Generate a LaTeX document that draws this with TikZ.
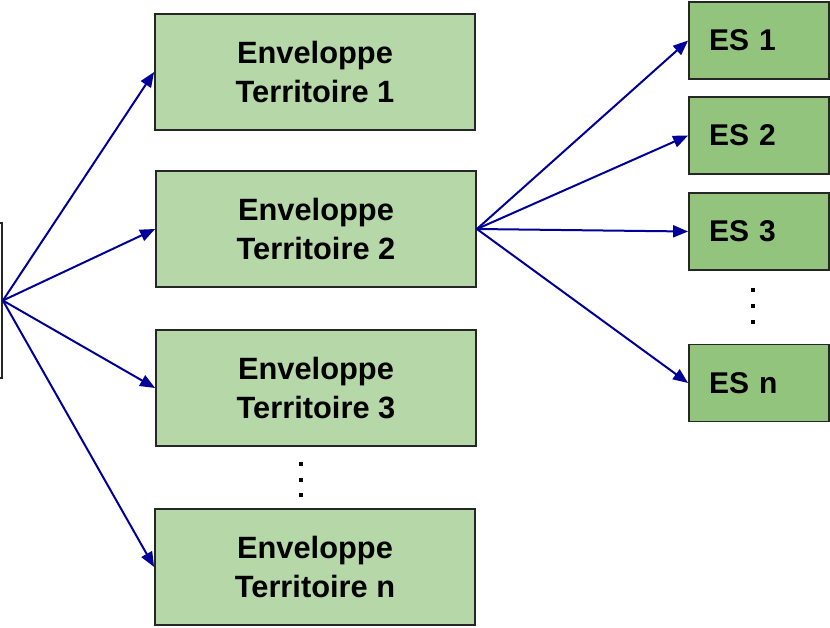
\documentclass[tikz,border=0pt]{standalone}
\usepackage{fontspec}
\setmainfont{Liberation Sans}
\usetikzlibrary{arrows.meta}
\definecolor{terrfill}{HTML}{B6D7A8}
\definecolor{esfill}{HTML}{93C47D}
\definecolor{arrowblue}{HTML}{000099}
\begin{document}
\begin{tikzpicture}[x=1pt,y=-1pt,
  terrbox/.style={draw=black!85, line width=1.8pt, fill=terrfill, minimum width=320pt, minimum height=116pt, inner sep=0pt, align=center,
    font={\fontsize{30.8pt}{39pt}\selectfont\bfseries}},
  esbox/.style={draw=black!85, line width=1.8pt, fill=esfill, minimum width=140pt, minimum height=77pt, inner xsep=0pt, text width=100pt, align=left,
    font={\fontsize{30pt}{36pt}\selectfont\bfseries}},
  conn/.style={draw=arrowblue, line width=2pt, -{Triangle[length=15pt,width=12pt]}},
  dotsq/.style={fill=black}
]
\useasboundingbox (0,0) rectangle (830,627);
\node[draw=black!85, line width=1.8pt, minimum width=44pt, minimum height=155pt, inner sep=0pt] (src) at (-20,300.5) {};
\node[terrbox] (t1) at (315,72) {Enveloppe\\Territoire 1};
\node[terrbox] (t2) at (316,229) {Enveloppe\\Territoire 2};
\node[terrbox] (t3) at (316,388) {Enveloppe\\Territoire 3};
\node[terrbox] (tn) at (315,567) {Enveloppe\\Territoire n};
\node[esbox] (e1) at (759,40.5) {ES 1};
\node[esbox] (e2) at (759,135.5) {ES 2};
\node[esbox] (e3) at (759,231.5) {ES 3};
\node[esbox] (en) at (759,383) {ES n};
\foreach \y in {464,480,495} \fill[dotsq] (299,\y-2) rectangle (303,\y+2);
\foreach \y in {290,306,322} \fill[dotsq] (751,\y-2) rectangle (755,\y+2);
\draw[conn] (src.east) -- (t1.west);
\draw[conn] (src.east) -- (t2.west);
\draw[conn] (src.east) -- (t3.west);
\draw[conn] (src.east) -- (tn.west);
\draw[conn] (t2.east) -- (e1.west);
\draw[conn] (t2.east) -- (e2.west);
\draw[conn] (t2.east) -- (e3.west);
\draw[conn] (t2.east) -- (en.west);
\end{tikzpicture}
\end{document}
